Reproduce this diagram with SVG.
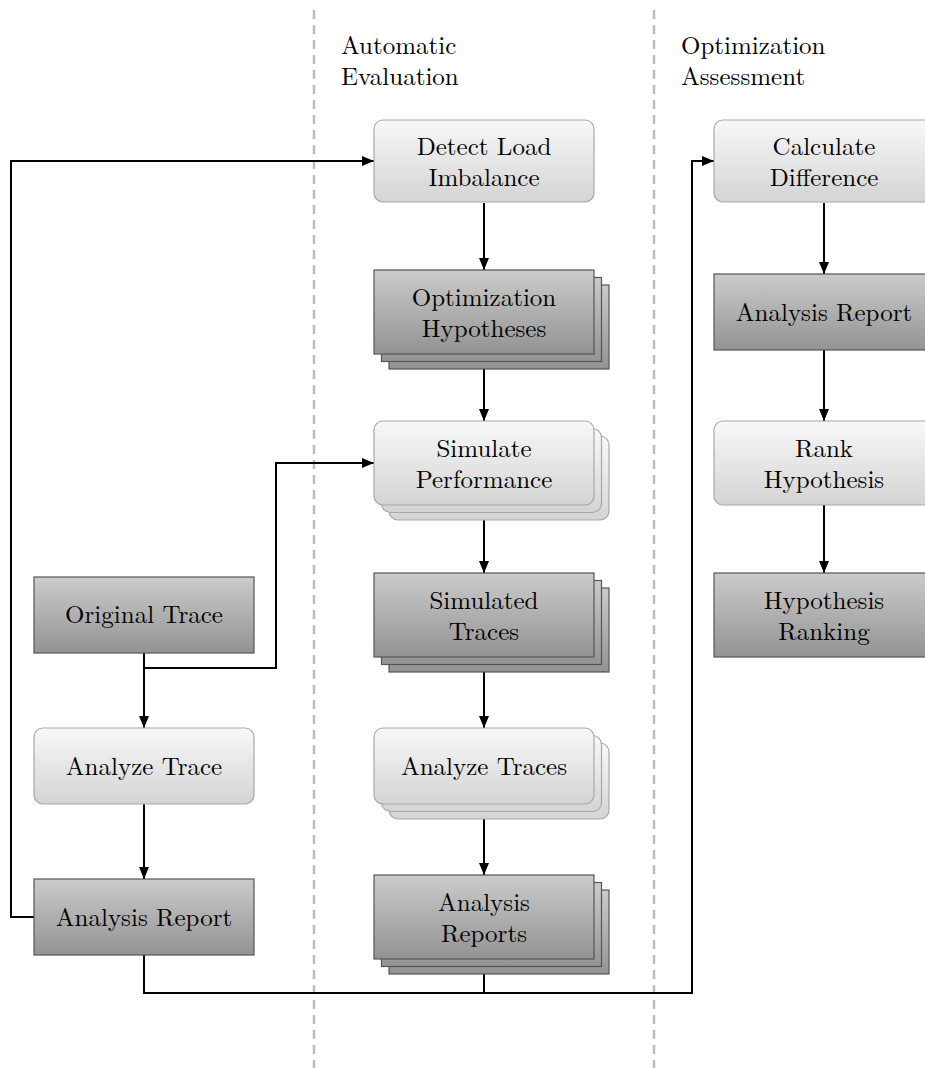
<svg xmlns="http://www.w3.org/2000/svg" width="925" height="1068" viewBox="0 0 925 1068">
<defs>
<linearGradient id="gl" x1="0" y1="0" x2="0" y2="1"><stop offset="0" stop-color="#f8f8f8"/><stop offset="1" stop-color="#d4d4d4"/></linearGradient>
<linearGradient id="gd" x1="0" y1="0" x2="0" y2="1"><stop offset="0" stop-color="#cbcbcb"/><stop offset="1" stop-color="#939393"/></linearGradient>
<marker id="ah" markerUnits="userSpaceOnUse" markerWidth="14" markerHeight="12" refX="12" refY="5" orient="auto"><path d="M0,0 L12,5 L0,10 z" fill="#000"/></marker>
</defs>
<style>
.l{fill:url(#gl);stroke:#a8a8a8;stroke-width:1.2}
.d{fill:url(#gd);stroke:#555;stroke-width:1.2}
.t{font-family:'Latin Modern Roman','Liberation Serif',serif;font-size:25px;fill:#000;text-anchor:middle}
.h{font-family:'Latin Modern Roman','Liberation Serif',serif;font-size:25px;fill:#000}
.c{fill:none;stroke:#000;stroke-width:2}
.a{marker-end:url(#ah)}
.sep{stroke:#bbb;stroke-width:2.5;stroke-dasharray:9 6}
</style>
<rect width="925" height="1068" fill="#fff"/>
<g id="separators">
<line class="sep" x1="314" y1="10" x2="314" y2="1068"/>
<line class="sep" x1="654" y1="10" x2="654" y2="1068"/>
</g>
<g id="headers">
<text class="h" x="341" y="54">Automatic<tspan x="341" dy="31">Evaluation</tspan></text>
<text class="h" x="681" y="54">Optimization<tspan x="681" dy="31">Assessment</tspan></text>
</g>
<g id="connectors">
<path class="c a" d="M484,203 V270"/>
<path class="c a" d="M484,354 V421"/>
<path class="c a" d="M484,505 V573"/>
<path class="c a" d="M484,657 V728"/>
<path class="c a" d="M484,804 V875"/>
<path class="c a" d="M824,203 V274"/>
<path class="c a" d="M824,350 V421"/>
<path class="c a" d="M824,505 V573"/>
<path class="c a" d="M144,653 V728"/>
<path class="c a" d="M144,804 V879"/>
<path class="c a" d="M144,653 V668 H276 V463 H374"/>
<path class="c a" d="M34,917 H11 V161 H374"/>
<path class="c a" d="M144,955 V993 H692 V161 H714"/>
<path class="c" d="M484,959 V993"/>
</g>
<g id="detect-load-imbalance">
<rect class="l" x="374" y="120" width="220" height="82" rx="9"/>
<text class="t" x="484" y="155">Detect Load<tspan x="484" dy="31">Imbalance</tspan></text>
</g>
<g id="optimization-hypotheses">
<rect class="d" x="389" y="285" width="220" height="84"/>
<rect class="d" x="381.5" y="277.5" width="220" height="84"/>
<rect class="d" x="374" y="270" width="220" height="84"/>
<text class="t" x="484" y="306">Optimization<tspan x="484" dy="31">Hypotheses</tspan></text>
</g>
<g id="simulate-performance">
<rect class="l" x="389" y="436" width="220" height="84" rx="9"/>
<rect class="l" x="381.5" y="428.5" width="220" height="84" rx="9"/>
<rect class="l" x="374" y="421" width="220" height="84" rx="9"/>
<text class="t" x="484" y="457">Simulate<tspan x="484" dy="31">Performance</tspan></text>
</g>
<g id="simulated-traces">
<rect class="d" x="389" y="588" width="220" height="84"/>
<rect class="d" x="381.5" y="580.5" width="220" height="84"/>
<rect class="d" x="374" y="573" width="220" height="84"/>
<text class="t" x="484" y="609">Simulated<tspan x="484" dy="31">Traces</tspan></text>
</g>
<g id="analyze-traces">
<rect class="l" x="389" y="743" width="220" height="76" rx="9"/>
<rect class="l" x="381.5" y="735.5" width="220" height="76" rx="9"/>
<rect class="l" x="374" y="728" width="220" height="76" rx="9"/>
<text class="t" x="484" y="775">Analyze Traces</text>
</g>
<g id="analysis-reports">
<rect class="d" x="389" y="890" width="220" height="84"/>
<rect class="d" x="381.5" y="882.5" width="220" height="84"/>
<rect class="d" x="374" y="875" width="220" height="84"/>
<text class="t" x="484" y="911">Analysis<tspan x="484" dy="31">Reports</tspan></text>
</g>
<g id="original-trace">
<rect class="d" x="34" y="577" width="220" height="76"/>
<text class="t" x="144" y="623">Original Trace</text>
</g>
<g id="analyze-trace">
<rect class="l" x="34" y="728" width="220" height="76" rx="9"/>
<text class="t" x="144" y="775">Analyze Trace</text>
</g>
<g id="analysis-report">
<rect class="d" x="34" y="879" width="220" height="76"/>
<text class="t" x="144" y="926">Analysis Report</text>
</g>
<g id="calculate-difference">
<rect class="l" x="714" y="120" width="220" height="82" rx="9"/>
<text class="t" x="824" y="155">Calculate<tspan x="824" dy="31">Difference</tspan></text>
</g>
<g id="analysis-report-2">
<rect class="d" x="714" y="274" width="220" height="76"/>
<text class="t" x="824" y="321">Analysis Report</text>
</g>
<g id="rank-hypothesis">
<rect class="l" x="714" y="421" width="220" height="84" rx="9"/>
<text class="t" x="824" y="457">Rank<tspan x="824" dy="31">Hypothesis</tspan></text>
</g>
<g id="hypothesis-ranking">
<rect class="d" x="714" y="573" width="220" height="84"/>
<text class="t" x="824" y="609">Hypothesis<tspan x="824" dy="31">Ranking</tspan></text>
</g>
</svg>
